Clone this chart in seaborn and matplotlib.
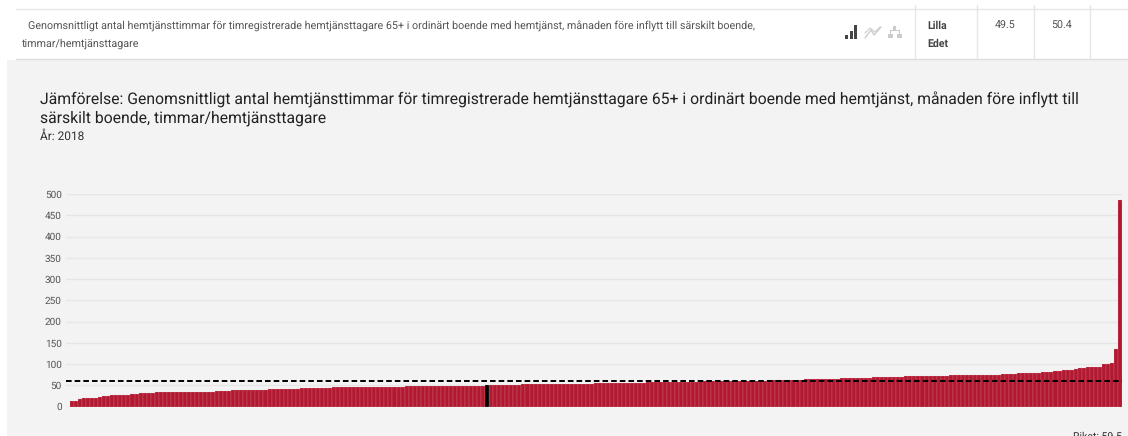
# Jamforelse mellan kommuner, hemtjansttimmar 65+ (2018)
import matplotlib
matplotlib.use('Agg')
import matplotlib.pyplot as plt
import pandas as pd
import seaborn as sns

# values, kommuner sorted low to high
values = [
    0, 13, 13, 18, 19, 19, 20, 20, 22, 24, 25, 26, 27, 27, 28, 28, 29, 30, 31, 32,
    32, 32, 33, 33, 33, 33, 33, 34, 34, 34, 34, 34, 35, 35, 35, 35, 35, 36, 36, 36,
    37, 38, 38, 38, 39, 39, 39, 40, 40, 40, 41, 41, 41, 41, 42, 42, 42, 42, 43, 43,
    43, 44, 44, 44, 44, 44, 45, 45, 45, 45, 45, 45, 46, 46, 46, 46, 46, 46, 47, 47,
    47, 47, 47, 47, 48, 48, 48, 48, 48, 48, 49, 49, 49, 49, 49, 49, 49, 49, 49, 49,
    49, 49, 49, 49, 49.5, 50, 50, 50, 50, 51, 51, 51, 51, 52, 52, 52, 52, 52, 53, 53,
    53, 53, 53, 53, 53, 54, 54, 54, 54, 54, 54, 55, 55, 55, 55, 55, 55, 55, 55, 56,
    56, 56, 56, 56, 57, 57, 57, 57, 57, 57, 58, 58, 58, 58, 58, 58, 58, 59, 59, 59,
    59, 59, 59, 60, 60, 60, 60, 60, 60, 61, 61, 61, 61, 61, 62, 62, 62, 62, 62, 63,
    63, 63, 63, 64, 64, 64, 64, 64, 65, 65, 65, 65, 66, 66, 66, 66, 67, 67, 68, 68,
    69, 69, 69, 70, 70, 70, 70, 70, 71, 71, 71, 71, 71, 71, 72, 72, 72, 72, 72, 73,
    73, 73, 73, 73, 73, 74, 74, 74, 74, 75, 75, 75, 76, 76, 76, 77, 78, 79, 79, 80,
    80, 80, 81, 81, 82, 83, 84, 85, 86, 87, 88, 90, 91, 92, 92, 93, 93, 99, 100, 103,
    136, 485,
]
selected = 104  # Lilla Edet
riket = 59.5
yticks = [0, 50, 100, 150, 200, 250, 300, 350, 400, 450, 500]

row_text = ["Genomsnittligt antal hemtjänsttimmar för timregistrerade hemtjänsttagare 65+ i ordinärt boende med hemtjänst, månaden före inflytt till särskilt boende,",
            "timmar/hemtjänsttagare"]
title_lines = ["Jämförelse: Genomsnittligt antal hemtjänsttimmar för timregistrerade hemtjänsttagare 65+ i ordinärt boende med hemtjänst, månaden före inflytt till",
               "särskilt boende, timmar/hemtjänsttagare"]

sns.set_theme(style='white')
plt.rcParams['font.family'] = ['Roboto', 'DejaVu Sans']
plt.rcParams['text.hinting'] = 'no_hinting'

df = pd.DataFrame({'kommun': range(len(values)), 'varde': values})
df['vald'] = df['kommun'] == selected

fig = plt.figure(figsize=(11.28, 4.36), dpi=100, facecolor='white')

# page behind the chart, in pixel coordinates
page = fig.add_axes([0, 0, 1, 1])
page.set_xlim(0, 1128)
page.set_ylim(436, 0)
page.axis('off')
page.add_patch(plt.Rectangle((7, 60), 1121, 376, color='#f3f3f3', lw=0))
page.plot([16, 1128], [9.5, 9.5], color='#e6e6e6', lw=1)
page.plot([16, 1128], [59.5, 59.5], color='#dedede', lw=1)
for vx in [915, 977, 1033.5, 1090]:
    page.plot([vx, vx], [5, 59], color='#e6e6e6', lw=1)

page.text(28, 26, row_text[0], fontsize=7.72, color='#555555', va='center')
page.text(22, 44, row_text[1], fontsize=7.72, color='#555555', va='center')
page.text(927, 26, 'Lilla', fontsize=7.6, color='#444444', weight='bold', va='center')
page.text(927, 44, 'Edet', fontsize=7.6, color='#444444', weight='bold', va='center')
page.text(1005, 26, '49.5', fontsize=7.7, color='#555555', va='center', ha='center')
page.text(1062, 26, '50.4', fontsize=7.7, color='#555555', va='center', ha='center')

# small icons in the table row
for bx, top in [(845, 35), (849.5, 31), (854, 25)]:
    page.add_patch(plt.Rectangle((bx, top), 3.2, 39 - top, color='#444444', lw=0))
page.plot([865, 871, 874, 881], [38, 30, 35, 27], color='#cccccc', lw=1)
page.plot([865, 870, 875, 880], [33, 28, 32, 27], color='#cccccc', lw=0.8)
for bx in [888, 897]:
    page.add_patch(plt.Rectangle((bx, 34), 5, 4, color='#cccccc', lw=0))
page.add_patch(plt.Rectangle((893, 26), 3, 4, color='#cccccc', lw=0))
page.plot([890, 890, 899, 899], [34, 30.5, 30.5, 34], color='#cccccc', lw=0.8)

page.text(40, 100, title_lines[0], fontsize=11.37, color='#222222', va='center')
page.text(40, 118, title_lines[1], fontsize=11.37, color='#222222', va='center')
page.text(40, 137, 'År: 2018', fontsize=8.6, color='#333333', va='center')

# the chart itself
ax = fig.add_axes([66 / 1128, 1 - 406.5 / 436, 1056 / 1128, 212.5 / 436])
ax.patch.set_alpha(0)
sns.barplot(data=df, x='kommun', y='varde', hue='vald', dodge=False, legend=False, saturation=1,
            palette={False: '#b2182f', True: '#000000'}, width=1, linewidth=0.12, edgecolor='#e9c9cf', ax=ax)
ax.axhline(riket, color='black', lw=1.4, dashes=(2.9, 1.55), zorder=5, clip_on=False)

ax.set_xlim(-0.5, len(values) - 0.5)
ax.set_ylim(0, 500)
ax.set_yticks(yticks)
ax.set_xticks([])
ax.set_xlabel('')
ax.set_ylabel('')
ax.grid(axis='y', color='#e6e6e6', lw=1)
ax.set_axisbelow(True)
ax.tick_params(axis='y', length=0, pad=3, labelsize=7.2, labelcolor='#555555')
sns.despine(ax=ax, left=True, bottom=True)

page.text(1122, 437, 'Riket: 59.5', fontsize=7.6, color='#333333', ha='right', va='center')

fig.savefig('out.png', dpi=100, facecolor='white')
print(len(values))
